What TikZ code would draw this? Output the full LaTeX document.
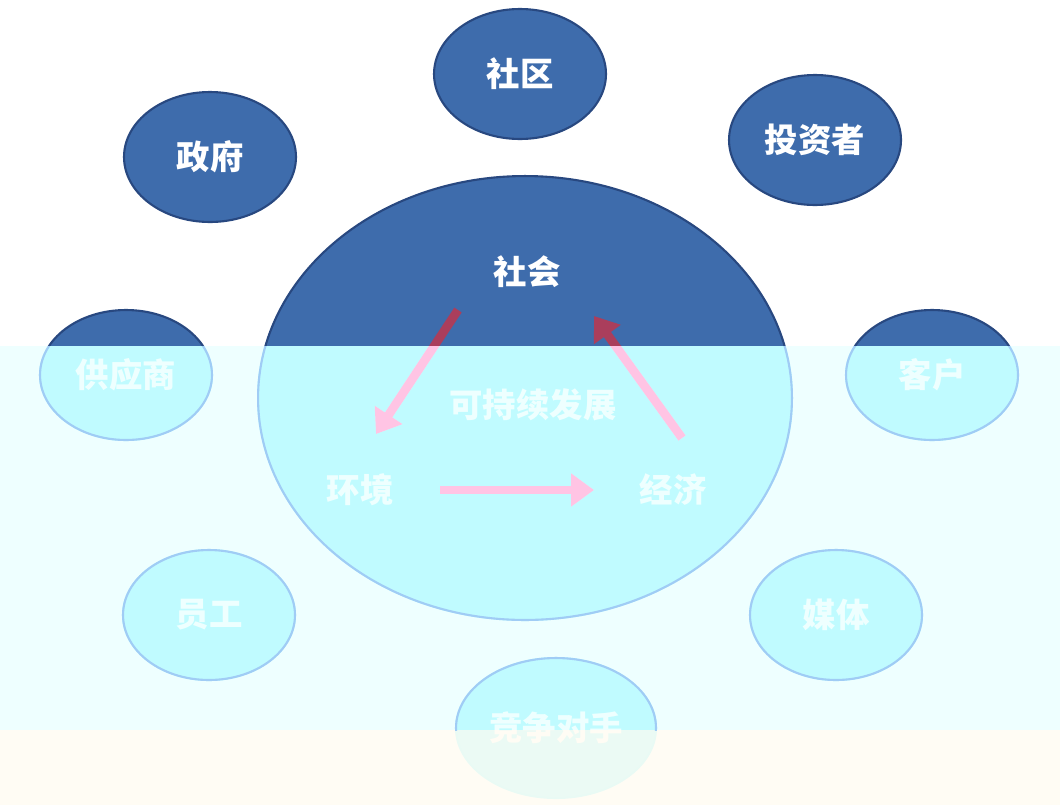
\documentclass[tikz,border=0pt]{standalone}
\usepackage{fontspec}
\newfontfamily\cjk{Noto Sans CJK SC}
\usetikzlibrary{shapes.geometric,arrows.meta}

\definecolor{bubble}{RGB}{62,108,172}
\definecolor{bubbleedge}{RGB}{40,72,128}
\definecolor{arrowred}{RGB}{170,62,92}
\definecolor{arrowpink}{RGB}{255,196,228}
\definecolor{washcyan}{RGB}{190,248,255}
\definecolor{washtint}{RGB}{238,255,255}
\definecolor{washcream}{RGB}{255,250,238}
\definecolor{washedge}{RGB}{160,204,245}

\begin{document}
\begin{tikzpicture}[x=0.02cm,y=-0.02cm,
	party/.style={ellipse,fill=bubble,draw=bubbleedge,line width=1.2pt,
		minimum width=3.44cm,minimum height=2.6cm,inner sep=0pt,
		text=white,font=\cjk\bfseries\fontsize{19}{22}\selectfont},
	hub/.style={party,minimum width=10.68cm,minimum height=8.88cm},
	word/.style={text=white,font=\cjk\bfseries\fontsize{19}{22}\selectfont},
	flow/.style={line width=5pt,arrowred,-{Triangle[length=13pt,width=18pt]}},
	washline/.style={washedge,line width=1.2pt}]
		\useasboundingbox (0,0) rectangle (1060,805);
		\fill[white] (0,0) rectangle (1060,805);

		% the big circle and the parties round it
		\node[hub] (society) at (525,398) {};
		\node[party] (community) at (520,74) {社区};
		\node[party] (gov) at (210,157) {政府};
		\node[party] (investor) at (815,140) {投资者};
		\node[party] (supp) at (126,375) {供应商};
		\node[party] (cust) at (932,375) {客户};
		\node[party] (staff) at (209,615) {员工};
		\node[party] (media) at (836,615) {媒体};
		\node[party,minimum width=4cm,minimum height=2.8cm] (rival) at (556,728) {竞争对手};

		\node[word] (soc) at (527,272) {社会};
		\node[word] (goal) at (533,405) {可持续发展};
		\node[word] (env) at (360,490) {环境};
		\node[word] (eco) at (673,490) {经济};

		% the cycle
		\coordinate (s1) at (458,310);
		\coordinate (e1) at (376,434);
		\coordinate (e2) at (440,490);
		\coordinate (c2) at (594,490);
		\coordinate (c3) at (682,438);
		\coordinate (s3) at (594,316);
		\draw[flow] (s1) -- (e1);
		\draw[flow] (e2) -- (c2);
		\draw[flow] (c3) -- (s3);

		% washed-out lower part
		\begin{scope}[blend mode=screen]
			\fill[washcyan] (0,346) rectangle (1060,805);
		\end{scope}
		\begin{scope}[blend mode=multiply]
			\fill[washtint] (0,346) rectangle (1060,730);
		\end{scope}
		\fill[washcream,opacity=0.6] (0,730) rectangle (1060,805);
		\begin{scope}
			\clip (0,346) rectangle (1060,730);
			\foreach \n in {supp,cust,staff,media}
				\draw[washline] (\n) ellipse[x radius=1.72cm,y radius=1.3cm];
			\draw[washline] (rival) ellipse[x radius=2cm,y radius=1.4cm];
			\draw[washline] (society) ellipse[x radius=5.34cm,y radius=4.44cm];
			\draw[flow,arrowpink] (s1) -- (e1);
			\draw[flow,arrowpink] (e2) -- (c2);
			\draw[flow,arrowpink] (c3) -- (s3);
		\end{scope}
	\end{tikzpicture}
\end{document}
